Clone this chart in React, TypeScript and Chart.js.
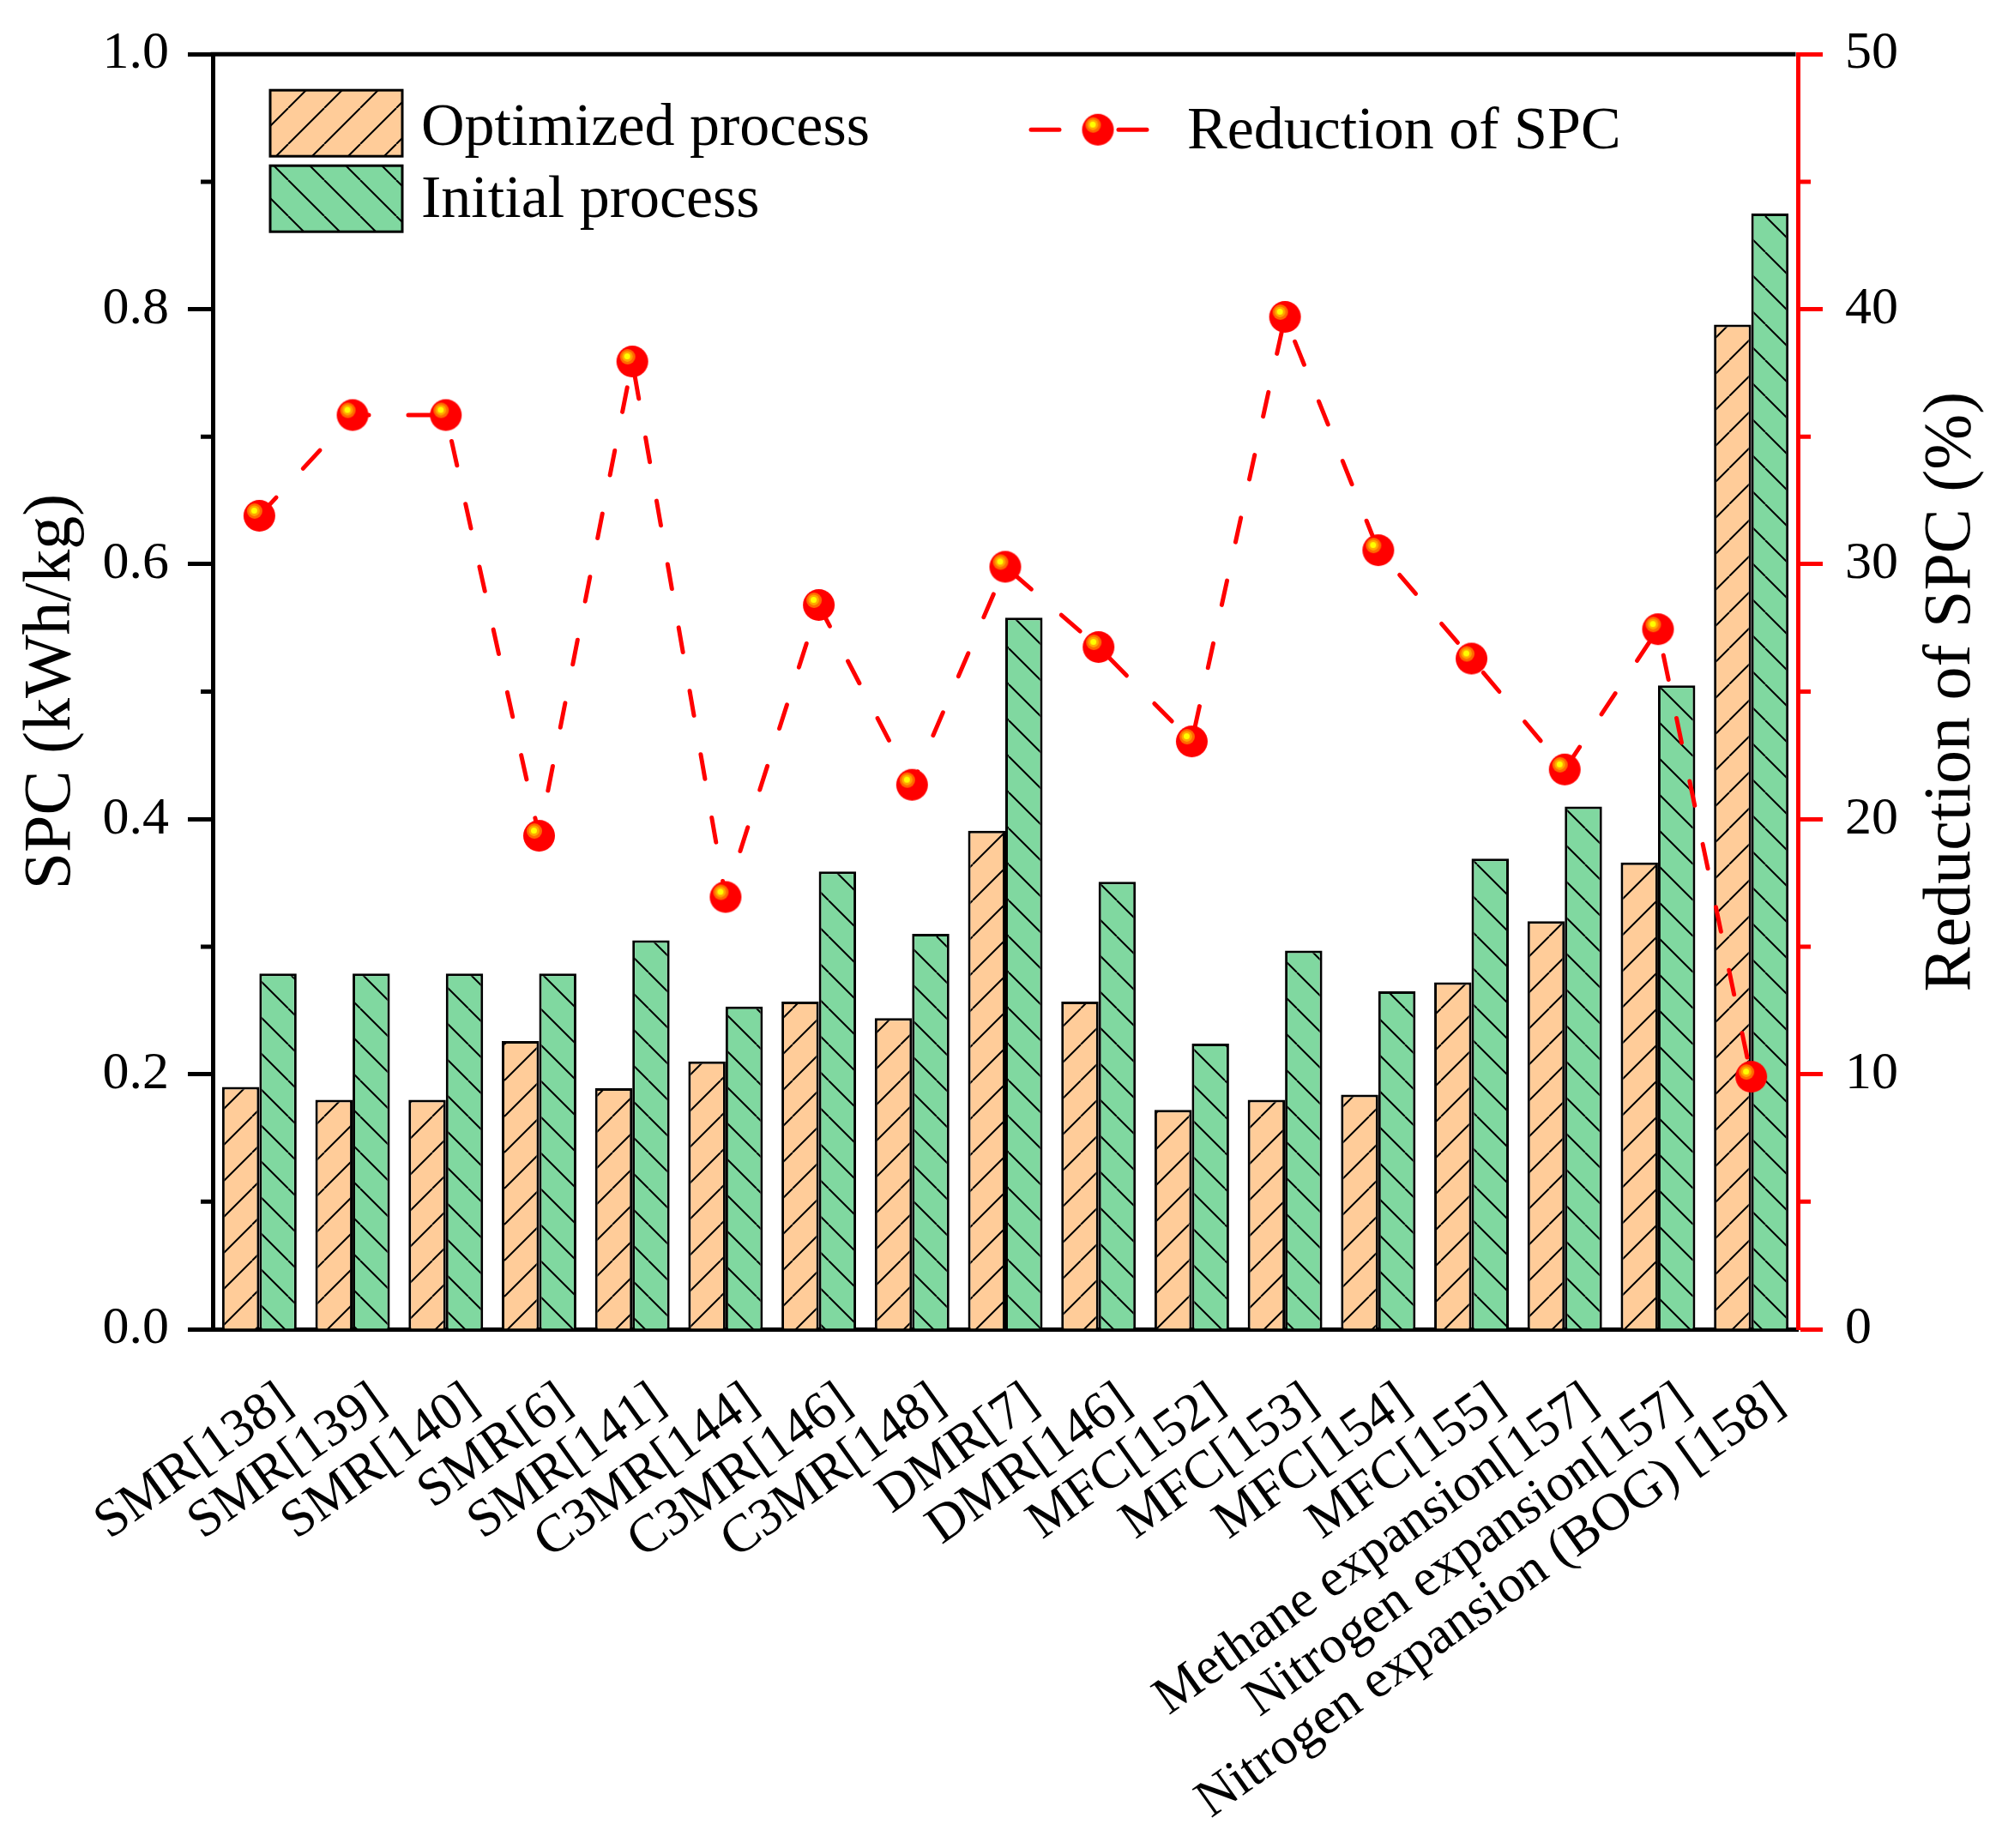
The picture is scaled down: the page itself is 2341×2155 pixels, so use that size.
import React, { useEffect, useRef } from 'react';
import { Chart, registerables } from 'chart.js';

Chart.register(...registerables);

const W = 2341;
const H = 2155;

const categories = [
  'SMR[138]',
  'SMR[139]',
  'SMR[140]',
  'SMR[6]',
  'SMR[141]',
  'C3MR[144]',
  'C3MR[146]',
  'C3MR[148]',
  'DMR[7]',
  'DMR[146]',
  'MFC[152]',
  'MFC[153]',
  'MFC[154]',
  'MFC[155]',
  'Methane expansion[157]',
  'Nitrogen expansion[157]',
  'Nitrogen expansion (BOG) [158]',
];

// SPC, kWh/kg
const optimizedSpc = [0.190, 0.180, 0.180, 0.226, 0.189, 0.210, 0.257, 0.244, 0.391, 0.257, 0.172, 0.180, 0.184, 0.272, 0.320, 0.366, 0.788];
const initialSpc = [0.279, 0.279, 0.279, 0.279, 0.305, 0.253, 0.359, 0.310, 0.558, 0.351, 0.224, 0.297, 0.265, 0.369, 0.410, 0.505, 0.875];

// reduction of SPC, %
const reductionPct = [31.9, 35.85, 35.85, 19.35, 37.95, 16.95, 28.4, 21.35, 29.9, 26.75, 23.05, 39.7, 30.55, 26.3, 21.95, 27.45, 9.9];

const leftMinorTicks = [0.1, 0.3, 0.5, 0.7, 0.9];
const rightMinorTicks = [5, 15, 25, 35, 45];

const SERIF = "'Liberation Serif', 'Times New Roman', serif";
const ORANGE = '#FFCC99';
const GREEN = '#80D8A0';
const RED = '#FF0000';

// hatch fill, dir 1 = '/', dir -1 = '\'
function makeHatch(bg: string, dir: number) {
  const s = 42;
  const c = document.createElement('canvas');
  c.width = s;
  c.height = s;
  const g = c.getContext('2d')!;
  g.fillStyle = bg;
  g.fillRect(0, 0, s, s);
  g.strokeStyle = '#000';
  g.lineWidth = 2;
  g.beginPath();
  for (const x0 of [-s, 0, s]) {
    if (dir > 0) {
      g.moveTo(x0, s);
      g.lineTo(x0 + s, 0);
    } else {
      g.moveTo(x0, 0);
      g.lineTo(x0 + s, s);
    }
  }
  g.stroke();
  return g.createPattern(c, 'repeat')!;
}

// red ball marker with a yellow highlight
function makeBall(r: number) {
  const size = Math.ceil(r * 2 + 2);
  const c = document.createElement('canvas');
  c.width = size;
  c.height = size;
  const g = c.getContext('2d')!;
  const cx = size / 2;
  const cy = size / 2;
  const disc = (x: number, y: number, rad: number, col: string) => {
    g.beginPath();
    g.arc(x, y, rad, 0, Math.PI * 2);
    g.fillStyle = col;
    g.fill();
  };
  disc(cx, cy, r, RED);
  disc(cx - 5.5, cy - 5.5, 9, '#FF6A00');
  disc(cx - 5.8, cy - 5.8, 6.2, '#FFA800');
  disc(cx - 6, cy - 6, 3.5, '#FFFF00');
  return c;
}

const App: React.FC = () => {
  const ref = useRef<HTMLCanvasElement>(null);

  useEffect(() => {
    if (!ref.current) return;
    document.body.style.margin = '0';

    const hatchOpt = makeHatch(ORANGE, 1);
    const hatchInit = makeHatch(GREEN, -1);
    const ball = makeBall(18.5);

    // extras Chart.js can't do here: top frame, minor ticks, right title read bottom-up, legend
    const decorations = {
      id: 'decorations',
      afterDraw(chart: any) {
        const { ctx, chartArea: a, scales } = chart;
        ctx.save();

        ctx.strokeStyle = '#000';
        ctx.lineWidth = 5;
        ctx.beginPath();
        ctx.moveTo(a.left - 2.5, a.top);
        ctx.lineTo(a.right - 2.5, a.top);
        ctx.stroke();

        ctx.beginPath();
        for (const v of leftMinorTicks) {
          const py = scales.y.getPixelForValue(v);
          ctx.moveTo(a.left - 14, py);
          ctx.lineTo(a.left, py);
        }
        ctx.stroke();

        ctx.strokeStyle = RED;
        ctx.beginPath();
        for (const v of rightMinorTicks) {
          const py = scales.y1.getPixelForValue(v);
          ctx.moveTo(a.right, py);
          ctx.lineTo(a.right + 15, py);
        }
        ctx.stroke();

        ctx.fillStyle = '#000';
        ctx.font = `78px ${SERIF}`;
        ctx.textAlign = 'center';
        ctx.textBaseline = 'middle';
        ctx.save();
        ctx.translate(a.right + 180, (a.top + a.bottom) / 2);
        ctx.rotate(-Math.PI / 2);
        ctx.fillText('Reduction of SPC (%)', 0, 0);
        ctx.restore();

        // legend
        const lx = a.left;
        const ly = a.top;
        const box = (x: number, y: number, fill: CanvasPattern) => {
          ctx.fillStyle = fill;
          ctx.fillRect(x, y, 154, 77);
          ctx.lineWidth = 3;
          ctx.strokeStyle = '#000';
          ctx.strokeRect(x, y, 154, 77);
        };
        box(lx + 67, ly + 42, hatchOpt);
        box(lx + 67, ly + 130, hatchInit);

        ctx.fillStyle = '#000';
        ctx.font = `70px ${SERIF}`;
        ctx.textAlign = 'left';
        ctx.textBaseline = 'alphabetic';
        ctx.fillText('Optimized process', lx + 243, ly + 106);
        ctx.fillText('Initial process', lx + 243, ly + 190);
        ctx.fillText('Reduction of SPC', lx + 1136, ly + 110);

        ctx.strokeStyle = RED;
        ctx.lineWidth = 5;
        ctx.lineCap = 'round';
        ctx.beginPath();
        ctx.moveTo(lx + 954, ly + 88);
        ctx.lineTo(lx + 987, ly + 88);
        ctx.moveTo(lx + 1056, ly + 88);
        ctx.lineTo(lx + 1089, ly + 88);
        ctx.stroke();
        ctx.drawImage(ball, lx + 1032 - ball.width / 2, ly + 88 - ball.height / 2);

        ctx.restore();
      },
    };

    const tickFont = { family: SERIF, size: 62 };

    const chart = new Chart(ref.current, {
      type: 'bar',
      data: {
        labels: categories,
        datasets: [
          {
            type: 'bar',
            label: 'Optimized process',
            data: optimizedSpc,
            backgroundColor: hatchOpt,
            borderColor: '#000',
            borderWidth: 3,
            yAxisID: 'y',
            order: 2,
          },
          {
            type: 'bar',
            label: 'Initial process',
            data: initialSpc,
            backgroundColor: hatchInit,
            borderColor: '#000',
            borderWidth: 3,
            yAxisID: 'y',
            order: 2,
          },
          {
            type: 'line',
            label: 'Reduction of SPC',
            data: reductionPct,
            yAxisID: 'y1',
            borderColor: RED,
            borderWidth: 5,
            borderDash: [29, 46],
            borderCapStyle: 'round',
            pointStyle: ball,
            pointRadius: 18,
            tension: 0,
            order: 1,
          },
        ],
      } as any,
      options: {
        responsive: false,
        animation: false,
        events: [],
        font: { family: SERIF },
        layout: { padding: { top: 58, left: 0, right: 0, bottom: 0 } },
        datasets: { bar: { categoryPercentage: 0.8, barPercentage: 1 } },
        plugins: {
          legend: { display: false },
          tooltip: { enabled: false },
        },
        scales: {
          x: {
            grid: { display: false, drawTicks: false },
            border: { display: true, color: '#000', width: 5 },
            ticks: {
              autoSkip: false,
              minRotation: 35.5,
              maxRotation: 35.5,
              padding: 48,
              labelOffset: 32,
              color: '#000',
              font: tickFont,
            },
            afterFit: (s: any) => {
              s.height = H - 1550;
            },
          },
          y: {
            position: 'left',
            min: 0,
            max: 1,
            ticks: {
              stepSize: 0.2,
              padding: 22,
              color: '#000',
              font: tickFont,
              callback: (v: any) => Number(v).toFixed(1),
            },
            grid: {
              drawOnChartArea: false,
              drawTicks: true,
              tickLength: 29,
              tickWidth: 5,
              color: '#000',
              tickColor: '#000',
            },
            border: { color: '#000', width: 5 },
            title: {
              display: true,
              text: 'SPC (kWh/kg)',
              color: '#000',
              font: { family: SERIF, size: 78 },
              padding: { top: 14, bottom: 0 },
            },
            afterFit: (s: any) => {
              s.width = 248;
            },
          },
          y1: {
            position: 'right',
            min: 0,
            max: 50,
            ticks: {
              stepSize: 10,
              padding: 26,
              color: '#000',
              font: tickFont,
            },
            grid: {
              drawOnChartArea: false,
              drawTicks: true,
              tickLength: 29,
              tickWidth: 5,
              color: RED,
              tickColor: RED,
            },
            border: { color: RED, width: 5 },
            afterFit: (s: any) => {
              s.width = W - 2096;
            },
          },
        },
      } as any,
      plugins: [decorations],
    });

    return () => {
      chart.destroy();
    };
  }, []);

  return (
    <canvas
      ref={ref}
      width={W}
      height={H}
      style={{ display: 'block', width: W, height: H }}
    ></canvas>
  );
};

export default App;
